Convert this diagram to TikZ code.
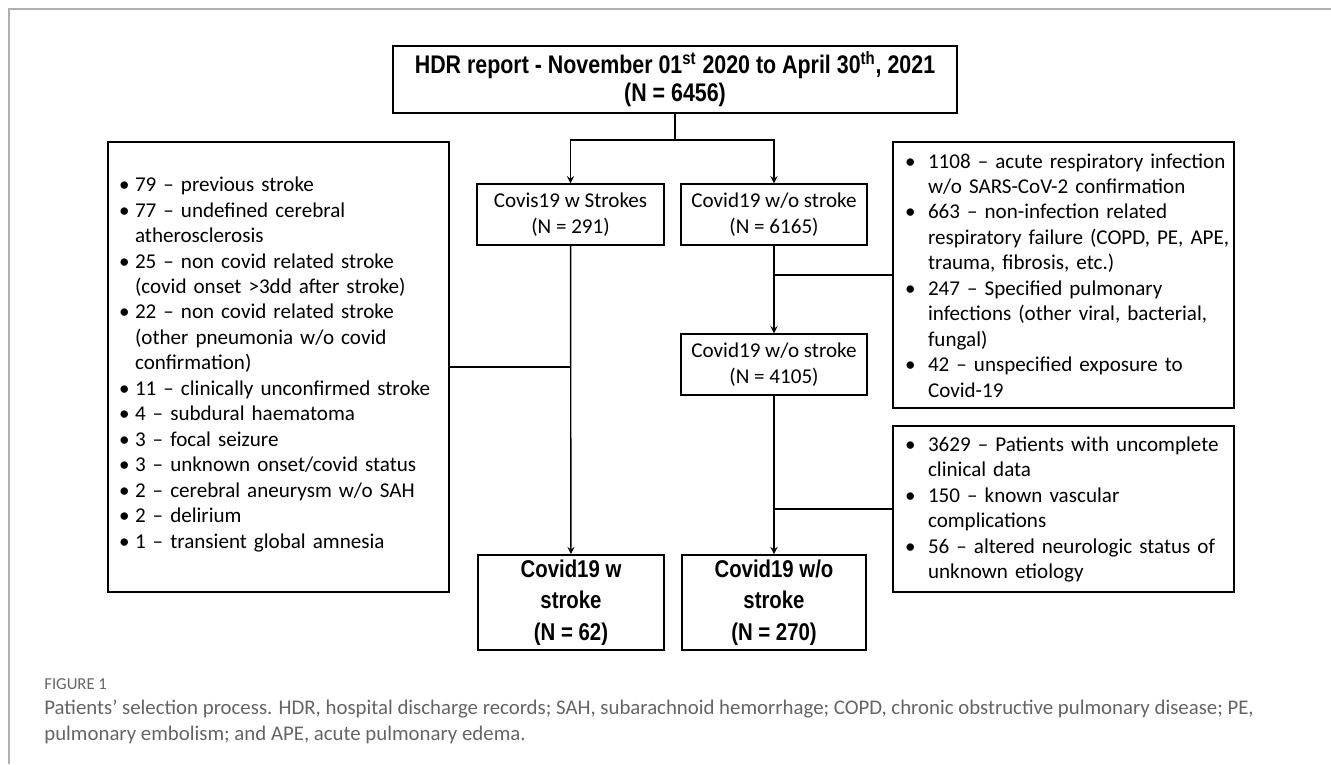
\documentclass[tikz,border=0pt]{standalone}
\usepackage{fontspec}
\setmainfont{Carlito}
\newfontfamily\narrowb[FakeStretch=0.84]{Liberation Sans}
\usetikzlibrary{positioning}
\definecolor{framegray}{RGB}{176,176,176}
\definecolor{capgray}{RGB}{100,100,100}
\newlength{\itmind}
% one list line with a bullet, and one continuation line
\newcommand{\itm}[1]{\par\noindent\makebox[\itmind][l]{\textbullet}\mbox{#1}}
\newcommand{\cnt}[1]{\par\noindent\hspace*{\itmind}\mbox{#1}}
\begin{document}
\begin{tikzpicture}[x=0.02cm,y=-0.02cm,>=stealth,
  box/.style={draw,line width=0.8pt,inner sep=0pt,align=center,
    font=\fontsize{12pt}{14.4pt}\selectfont},
  boldbox/.style={draw,line width=1.1pt,inner sep=0pt,align=center,
    font=\narrowb\bfseries\fontsize{14.5pt}{16pt}\selectfont},
  listbox/.style={draw,line width=0.8pt,inner ysep=0pt,align=left,
    minimum width=6.82cm,font=\fontsize{12pt}{14.5pt}\selectfont},
  link/.style={line width=0.8pt}]
\useasboundingbox (0,0) rectangle (1331,764);
% frame of the figure
\draw[framegray,line width=1.1pt] (9,764) -- (9,9) -- (1331,9);
% upper part
\node[boldbox,minimum width=11.28cm,minimum height=1.34cm] (hdr) at (675,79.5)
  {HDR report - November 01\textsuperscript{st} 2020 to April 30\textsuperscript{th}, 2021\\(N = 6456)};
\node[box,minimum width=3.74cm,minimum height=1.22cm] (withs) at (570.5,214.5)
  {Covis19 w Strokes\\(N = 291)};
\node[box,minimum width=3.72cm,minimum height=1.22cm] (wos) at (774,214.5)
  {Covid19 w/o stroke\\(N = 6165)};
\node[box,minimum width=3.72cm,minimum height=1.22cm] (wos2) at (774,364.5)
  {Covid19 w/o stroke\\(N = 4105)};
% excluded lists
\node[listbox,inner xsep=0.22cm,text width=6.38cm,minimum height=9cm] (exclL) at (278.5,367)
  {\setlength{\itmind}{0.32cm}\vspace*{-0.32cm}%
   \itm{79 -- previous stroke}
   \itm{77 -- undefined cerebral}
   \cnt{atherosclerosis}
   \itm{25 -- non covid related stroke}
   \cnt{(covid onset >3dd after stroke)}
   \itm{22 -- non covid related stroke}
   \cnt{(other pneumonia w/o covid}
   \cnt{confirmation)}
   \itm{11 -- clinically unconfirmed stroke}
   \itm{4 -- subdural haematoma}
   \itm{3 -- focal seizure}
   \itm{3 -- unknown onset/covid status}
   \itm{2 -- cerebral aneurysm w/o SAH}
   \itm{2 -- delirium}
   \itm{1 -- transient global amnesia}};
\node[listbox,inner xsep=0.24cm,text width=6.34cm,minimum height=5.32cm] (exclR) at (1063.5,275)
  {\setlength{\itmind}{0.46cm}\vspace*{-0.2cm}%
   \itm{1108 -- acute respiratory infection}
   \cnt{w/o SARS-CoV-2 confirmation}
   \itm{663 -- non-infection related}
   \cnt{respiratory failure (COPD, PE, APE,}
   \cnt{trauma, fibrosis, etc.)}
   \itm{247 -- Specified pulmonary}
   \cnt{infections (other viral, bacterial,}
   \cnt{fungal)}
   \itm{42 -- unspecified exposure to}
   \cnt{Covid-19}};
\node[listbox,inner xsep=0.24cm,text width=6.34cm,minimum height=3.32cm] (exclD) at (1063.5,509)
  {\setlength{\itmind}{0.46cm}\vspace*{-0.2cm}%
   \itm{3629 -- Patients with uncomplete}
   \cnt{clinical data}
   \itm{150 -- known vascular}
   \cnt{complications}
   \itm{56 -- altered neurologic status of}
   \cnt{unknown etiology}};
% final groups
\node[boldbox,minimum width=3.72cm,minimum height=1.9cm,
  font=\narrowb\bfseries\fontsize{13.8pt}{18pt}\selectfont] (fin1) at (571,602.5)
  {Covid19 w\\stroke\\(N = 62)};
\node[boldbox,minimum width=3.68cm,minimum height=1.9cm,
  font=\narrowb\bfseries\fontsize{13.8pt}{18pt}\selectfont] (fin2) at (774,602.5)
  {Covid19 w/o\\stroke\\(N = 270)};
% connectors
\coordinate (fork) at (675,140);
\draw[link] (hdr) -- (fork);
\draw[link,->] (fork) -| (withs);
\draw[link,->] (fork) -| (wos);
\draw[link,->] (withs) -- (fin1);
\draw[link] (exclL.east) -- (exclL.east -| withs.south);
\draw[link,->] (wos) -- (wos2);
\draw[link] (exclR.west) -- (exclR.west -| wos.south);
\draw[link,->] (wos2) -- (fin2);
\draw[link] (exclD.west) -- (exclD.west -| wos2.south);
% caption
\node[anchor=base west,inner sep=0pt,text=capgray,font=\fontsize{9.5pt}{11pt}\selectfont] (figlab) at (44,689) {FIGURE 1};
\node[anchor=north west,inner sep=0pt,text=capgray,align=left,
  font=\fontsize{11.85pt}{14.8pt}\selectfont] (caption) at (44,699)
  {Patients' selection process. HDR, hospital discharge records; SAH, subarachnoid hemorrhage; COPD, chronic obstructive pulmonary disease; PE,\\pulmonary embolism; and APE, acute pulmonary edema.};
\end{tikzpicture}
\end{document}
